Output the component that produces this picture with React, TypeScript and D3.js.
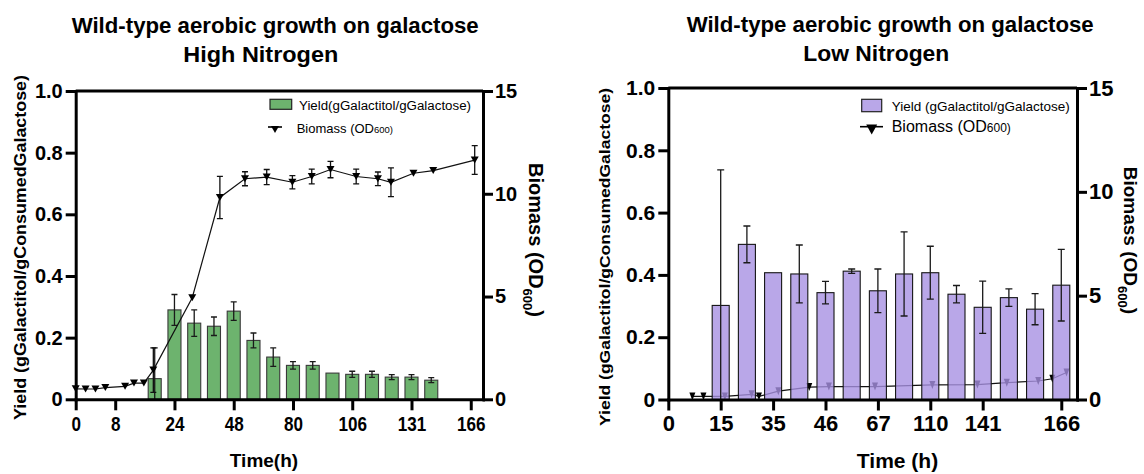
import React, { useEffect, useRef } from 'react'
import * as d3 from 'd3'

const FONT = "'Liberation Sans', Arial, Helvetica, sans-serif"

// ---- High nitrogen (left panel) ----
// x positions are Prism "slots": evenly spaced columns, tick labels are the sample times (h)
const hnTickSlots = [0, 2, 5, 8, 11, 14, 17, 20]
const hnTickLabels = ['0', '8', '24', '48', '80', '106', '131', '166']
const hnYieldSlots = [4, 5, 6, 7, 8, 9, 10, 11, 12, 13, 14, 15, 16, 17, 18]
const hnYield = [0.067, 0.29, 0.247, 0.237, 0.286, 0.191, 0.137, 0.11, 0.11, 0.085, 0.081, 0.081, 0.072, 0.072, 0.062]
const hnYieldErr = [0.1, 0.05, 0.043, 0.03, 0.03, 0.024, 0.03, 0.012, 0.012, 0.002, 0.01, 0.01, 0.008, 0.008, 0.008]
const hnBioSlots = [0, 0.5, 1, 1.5, 2.5, 2.95, 3.45, 3.93, 5.9, 7.3, 8.57, 9.67, 10.97, 11.95, 12.9, 14.2, 15.3, 15.96, 17.1, 18.1, 20.2]
const hnBio = [0.51, 0.5, 0.5, 0.57, 0.63, 0.79, 0.79, 1.42, 4.94, 9.82, 10.73, 10.81, 10.56, 10.84, 11.18, 10.84, 10.73, 10.56, 11.0, 11.13, 11.64]
const hnBioErr = [0, 0, 0, 0, 0, 0, 0, 1.08, 0, 1.03, 0.34, 0.37, 0.32, 0.36, 0.4, 0.36, 0.33, 0.7, 0, 0, 0.7]

// ---- Low nitrogen (right panel) ----
const lnTickSlots = [0, 2, 4, 6, 8, 10, 12, 15]
const lnTickLabels = ['0', '15', '35', '46', '67', '110', '141', '166']
const lnYieldSlots = [2, 3, 4, 5, 6, 7, 8, 9, 10, 11, 12, 13, 14, 15]
const lnYield = [0.302, 0.498, 0.407, 0.403, 0.343, 0.412, 0.349, 0.403, 0.407, 0.338, 0.296, 0.327, 0.29, 0.367]
const lnYieldErr = [0.435, 0.059, 0, 0.093, 0.036, 0.007, 0.07, 0.135, 0.085, 0.028, 0.084, 0.028, 0.05, 0.115]
const lnBioSlots = [0.92, 1.34, 2.16, 3.18, 3.46, 4.2, 5.38, 6.13, 7.89, 10.08, 11.8, 12.92, 14.12, 14.66, 15.2]
const lnBio = [0.15, 0.15, 0.15, 0.25, 0.15, 0.4, 0.6, 0.62, 0.62, 0.7, 0.72, 0.81, 0.89, 1.0, 1.3]

const yieldTicks = [0, 0.2, 0.4, 0.6, 0.8, 1.0]
const bioTicks = [0, 5, 10, 15]

const panels = [
  {
    title1: 'Wild-type aerobic growth on galactose', title2: 'High Nitrogen',
    t1: [71.7, 33.3, 407], t2: [183.3, 62, 155], titleSize: 22,
    tickSlots: hnTickSlots, tickLabels: hnTickLabels,
    yieldSlots: hnYieldSlots, yieldVals: hnYield, yieldErr: hnYieldErr,
    bioSlots: hnBioSlots, bio: hnBio, bioErr: hnBioErr,
    x0: 75.7, axisR: 483, slotEnd: 20.62, yBottom: 399.3, yTop: 91,
    barFrac: 0.66, barFill: '#6db36e', barStroke: '#3a3a3a', barOpacity: 1, bioOnTop: true,
    marker: [8, 7], cap: 6,
    yTickSize: 20, xTickSize: 20, xTickW: 9.5, xPad: 7, rTickSize: 20,
    yLabel: [25.5, 247.5, 17, 345], xLabel: ['Time(h)', 264, 467, 19],
    bioLabel: [529, 163, 20, 13],
    legend: { box: [270, 99.3, 21.7, 10], t1: ['Yield(gGalactitol/gGalactose)', 299, 109.5, 12.5, 172], sym: [268, 282, 127, 275, 129.5, 8, 7], t2: [296.7, 133, 13, 9.5] },
  },
  {
    title1: 'Wild-type aerobic growth on galactose', title2: 'Low Nitrogen',
    t1: [686.7, 32, 407], t2: [803.3, 61, 146], titleSize: 22,
    tickSlots: lnTickSlots, tickLabels: lnTickLabels,
    yieldSlots: lnYieldSlots, yieldVals: lnYield, yieldErr: lnYieldErr,
    bioSlots: lnBioSlots, bio: lnBio, bioErr: null,
    x0: 668.3, axisR: 1077, slotEnd: 15.6, yBottom: 399.5, yTop: 88,
    barFrac: 0.65, barFill: '#a791e2', barStroke: '#151515', barOpacity: 0.8, bioOnTop: false,
    marker: [6, 8], cap: 7,
    yTickSize: 21, xTickSize: 22, xTickW: 0, xPad: 5, rTickSize: 22,
    yLabel: [610, 257, 14, 338], xLabel: ['Time (h)', 897.5, 468, 21],
    bioLabel: [1124, 166.7, 19, 13],
    legend: { box: [861.7, 99.3, 20, 12.4], t1: ['Yield (gGalactitol/gGalactose)', 891.7, 111, 13, 178], sym: [860, 883, 126.7, 871.7, 129.5, 11, 10], t2: [891.7, 131.7, 16, 12] },
  },
]

function triangle(w, h) {
  return `M${-w / 2},${-h / 2}L${w / 2},${-h / 2}L0,${h / 2}Z`
}

function drawPanel(svg, p) {
  const g = svg.append('g')
  const x = d3.scaleLinear().domain([0, p.slotEnd]).range([p.x0, p.axisR])
  const y = d3.scaleLinear().domain([0, 1]).range([p.yBottom, p.yTop])
  const y2 = d3.scaleLinear().domain([0, 15]).range([p.yBottom, p.yTop])
  const slotW = x(1) - x(0)
  const bw = slotW * p.barFrac

  // titles
  g.append('text').attr('x', p.t1[0]).attr('y', p.t1[1]).attr('font-size', p.titleSize)
    .attr('font-weight', 'bold').attr('font-family', FONT)
    .attr('textLength', p.t1[2]).attr('lengthAdjust', 'spacingAndGlyphs').text(p.title1)
  g.append('text').attr('x', p.t2[0]).attr('y', p.t2[1]).attr('font-size', p.titleSize)
    .attr('font-weight', 'bold').attr('font-family', FONT)
    .attr('textLength', p.t2[2]).attr('lengthAdjust', 'spacingAndGlyphs').text(p.title2)

  const drawBiomass = () => {
    const idx = d3.range(p.bioSlots.length)
    g.append('path').datum(idx)
      .attr('fill', 'none').attr('stroke', '#111').attr('stroke-width', 1.2)
      .attr('d', d3.line().x(i => x(p.bioSlots[i])).y(i => y2(p.bio[i])))
    if (p.bioErr) {
      idx.filter(i => p.bioErr[i] > 0).forEach(i => {
        const cx = x(p.bioSlots[i])
        const lo = y2(p.bio[i] - p.bioErr[i])
        const hi = y2(p.bio[i] + p.bioErr[i])
        g.append('path')
          .attr('d', `M${cx},${lo}V${hi}M${cx - p.cap / 2},${lo}h${p.cap}M${cx - p.cap / 2},${hi}h${p.cap}`)
          .attr('stroke', '#111').attr('stroke-width', 1.3).attr('fill', 'none')
      })
    }
    g.selectAll(null).data(idx).enter().append('path')
      .attr('d', triangle(p.marker[0], p.marker[1]))
      .attr('transform', i => `translate(${x(p.bioSlots[i])},${y2(p.bio[i])})`)
      .attr('fill', '#000')
  }

  if (!p.bioOnTop) drawBiomass()

  // bars
  g.selectAll(null).data(p.yieldVals).enter().append('rect')
    .attr('x', (d, i) => x(p.yieldSlots[i]) - bw / 2)
    .attr('y', d => y(d))
    .attr('width', bw)
    .attr('height', d => y(0) - y(d))
    .attr('fill', p.barFill).attr('fill-opacity', p.barOpacity)
    .attr('stroke', p.barStroke).attr('stroke-width', 1.1)

  // bar error bars
  p.yieldVals.forEach((v, i) => {
    const e = p.yieldErr[i]
    if (e < 0.004) return
    const cx = x(p.yieldSlots[i])
    const hi = y(v + e)
    const loV = v - e
    const lo = y(Math.max(0, loV))
    let d = `M${cx},${lo}V${hi}M${cx - p.cap / 2},${hi}h${p.cap}`
    if (loV > 0) d += `M${cx - p.cap / 2},${lo}h${p.cap}`
    g.append('path').attr('d', d).attr('stroke', '#1a1a1a').attr('stroke-width', 1.3).attr('fill', 'none')
  })

  if (p.bioOnTop) drawBiomass()

  // top frame line
  g.append('line').attr('x1', p.x0).attr('x2', p.axisR).attr('y1', p.yTop).attr('y2', p.yTop)
    .attr('stroke', '#000').attr('stroke-width', 3)

  const styleAxis = (a, size) => {
    a.attr('font-family', FONT).attr('font-size', size).attr('font-weight', 'bold')
    a.selectAll('path.domain').attr('stroke-width', 3).attr('stroke-linecap', 'square')
    a.selectAll('.tick line').attr('stroke-width', 3)
  }

  const left = g.append('g').attr('transform', `translate(${p.x0},0)`)
    .call(d3.axisLeft(y).tickValues(yieldTicks).tickSize(10).tickSizeOuter(0).tickPadding(3)
      .tickFormat(d => (d === 0 ? '0' : d3.format('.1f')(d))))
  styleAxis(left, p.yTickSize)

  const right = g.append('g').attr('transform', `translate(${p.axisR},0)`)
    .call(d3.axisRight(y2).tickValues(bioTicks).tickSize(10).tickSizeOuter(0).tickPadding(2))
  styleAxis(right, p.rTickSize)

  const bottom = g.append('g').attr('transform', `translate(0,${p.yBottom})`)
    .call(d3.axisBottom(x).tickValues(p.tickSlots).tickSize(11).tickSizeOuter(0).tickPadding(p.xPad)
      .tickFormat((d, i) => p.tickLabels[i]))
  styleAxis(bottom, p.xTickSize)
  if (p.xTickW) {
    bottom.selectAll('.tick text')
      .attr('textLength', (d, i) => p.tickLabels[i].length * p.xTickW)
      .attr('lengthAdjust', 'spacingAndGlyphs')
  }

  // axis titles
  g.append('text').attr('transform', `translate(${p.yLabel[0]},${p.yLabel[1]}) rotate(-90)`)
    .attr('text-anchor', 'middle').attr('font-family', FONT).attr('font-weight', 'bold')
    .attr('font-size', p.yLabel[2]).attr('textLength', p.yLabel[3]).attr('lengthAdjust', 'spacingAndGlyphs')
    .text('Yield (gGalactitol/gConsumedGalactose)')

  g.append('text').attr('x', p.xLabel[1]).attr('y', p.xLabel[2]).attr('text-anchor', 'middle')
    .attr('font-family', FONT).attr('font-weight', 'bold').attr('font-size', p.xLabel[3]).text(p.xLabel[0])

  const bl = g.append('text').attr('transform', `translate(${p.bioLabel[0]},${p.bioLabel[1]}) rotate(90)`)
    .attr('font-family', FONT).attr('font-weight', 'bold').attr('font-size', p.bioLabel[2])
  bl.append('tspan').text('Biomass (OD')
  bl.append('tspan').attr('font-size', p.bioLabel[3]).attr('dy', 6).text('600')
  bl.append('tspan').attr('dy', -6).text(')')

  // legend
  const L = p.legend
  g.append('rect').attr('x', L.box[0]).attr('y', L.box[1]).attr('width', L.box[2]).attr('height', L.box[3])
    .attr('fill', p.barFill).attr('fill-opacity', p.barOpacity).attr('stroke', '#222').attr('stroke-width', 1.2)
  g.append('text').attr('x', L.t1[1]).attr('y', L.t1[2]).attr('font-family', FONT).attr('font-size', L.t1[3])
    .attr('textLength', L.t1[4]).attr('lengthAdjust', 'spacingAndGlyphs').text(L.t1[0])
  g.append('line').attr('x1', L.sym[0]).attr('x2', L.sym[1]).attr('y1', L.sym[2]).attr('y2', L.sym[2])
    .attr('stroke', '#000').attr('stroke-width', 1.6)
  g.append('path').attr('d', triangle(L.sym[5], L.sym[6]))
    .attr('transform', `translate(${L.sym[3]},${L.sym[4]})`).attr('fill', '#000')
  const lt = g.append('text').attr('x', L.t2[0]).attr('y', L.t2[1]).attr('font-family', FONT).attr('font-size', L.t2[2])
  lt.append('tspan').text('Biomass (OD')
  lt.append('tspan').attr('font-size', L.t2[3]).text('600)')
}

export default function App() {
  const ref = useRef(null)
  useEffect(() => {
    const svg = d3.select(ref.current)
    svg.selectAll('*').remove()
    panels.forEach(p => drawPanel(svg, p))
  }, [])
  return (
    <svg ref={ref} width={1144} height={474}
      style={{ position: 'absolute', left: 0, top: 0, background: '#fff' }} />
  )
}
